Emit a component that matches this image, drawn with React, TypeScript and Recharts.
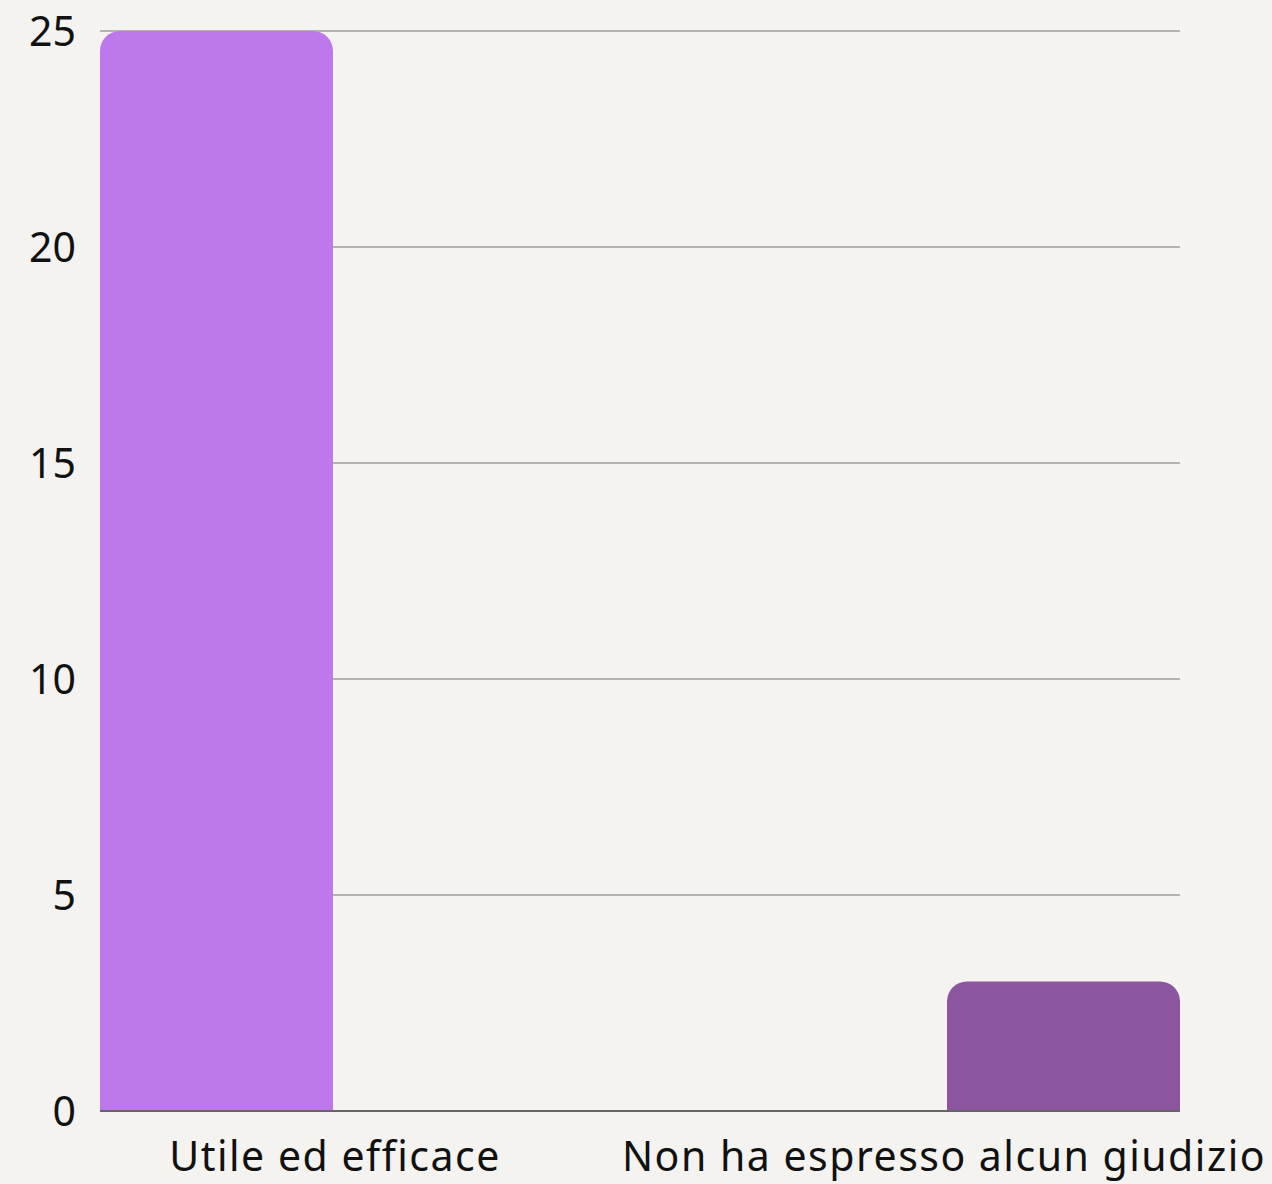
import { Bar, BarChart, CartesianGrid, XAxis, YAxis } from 'recharts';

const categories = ['Utile ed efficace', 'Non ha espresso alcun giudizio'];
const utileValues = [25, null];
const nessunGiudizioValues = [null, 3];
const yTicks = [0, 5, 10, 15, 20, 25];

const data = categories.map((name, i) => ({
	name,
	utile: utileValues[i],
	nessuno: nessunGiudizioValues[i]
}));

const FONT = '"Noto Sans", Roboto, sans-serif';
const labelShift = [-35, 34];

function CategoryTick(props: any) {
	const { x, y, payload, index } = props;
	return (
		<text
			x={x + (labelShift[index] ?? 0)}
			y={y}
			dy="0.71em"
			textAnchor="middle"
			fill="#111"
			fontSize={41}
			letterSpacing={1.5}
			fontFamily={FONT}
		>
			{payload.value}
		</text>
	);
}

export default function App() {
	return (
		<div style={{ width: 1272, height: 1184, background: '#f4f3ef' }}>
			<style>{'body{margin:0}'}</style>
			<BarChart
				width={1272}
				height={1184}
				data={data}
				margin={{ top: 31, right: 92, bottom: 0, left: 0 }}
				barCategoryGap={0}
				barGap={74}
			>
				<CartesianGrid vertical={false} stroke="#b3b3b1" strokeWidth={2} />
				<XAxis
					dataKey="name"
					height={73}
					tickLine={false}
					tickSize={0}
					tickMargin={31}
					axisLine={{ stroke: '#666', strokeWidth: 2 }}
					tick={<CategoryTick />}
					interval={0}
				/>
				<YAxis
					width={100}
					domain={[0, 25]}
					ticks={yTicks}
					axisLine={false}
					tickLine={false}
					tickSize={0}
					tickMargin={24}
					tick={{ fontSize: 41, fill: '#111', fontFamily: FONT }}
				/>
				<Bar dataKey="utile" fill="#bd78ec" radius={[20, 20, 0, 0]} isAnimationActive={false} />
				<Bar dataKey="nessuno" fill="#8b559f" radius={[20, 20, 0, 0]} isAnimationActive={false} />
			</BarChart>
		</div>
	);
}
